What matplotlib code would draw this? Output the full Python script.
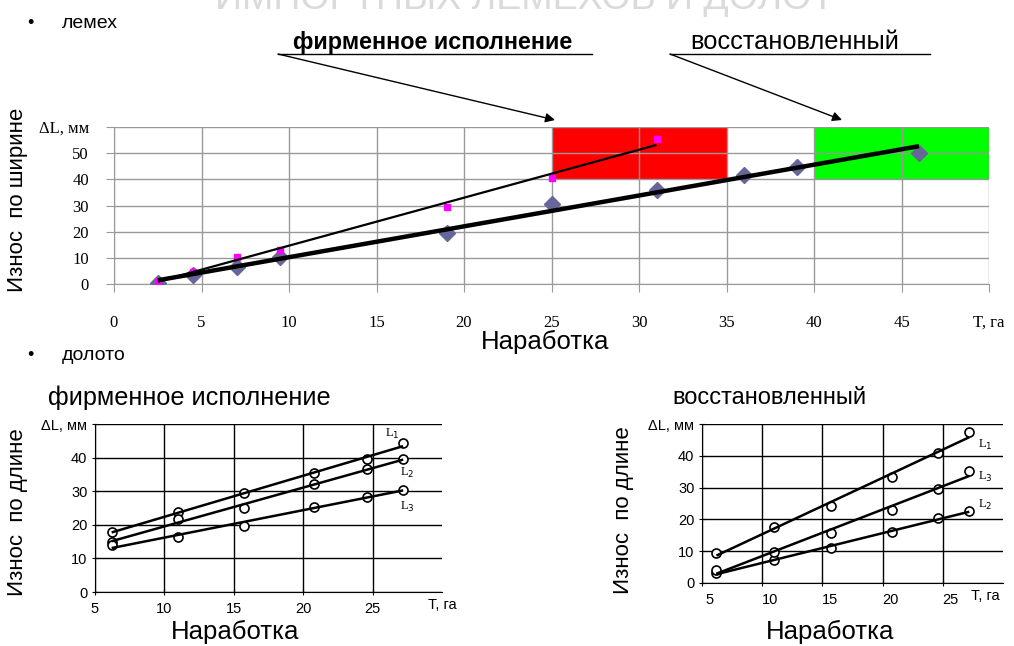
import matplotlib
matplotlib.use("Agg")
import matplotlib.pyplot as plt
import matplotlib.transforms as mtransforms
from matplotlib.lines import Line2D
from matplotlib.patches import Rectangle
import numpy as np

plt.rcParams['font.family'] = ['Liberation Sans', 'DejaVu Sans']

# --- лемех: износ по ширине ---
t_firm = [2.5, 4.5, 7, 9.5, 19, 25, 31]
dl_firm = [1.3, 4.7, 10.4, 13.0, 29.5, 40.6, 55.3]
t_rest = [2.5, 4.5, 7, 9.5, 19, 25, 31, 36, 39, 46]
dl_rest = [0.3, 3.4, 6.6, 10.4, 19.4, 30.6, 35.9, 41.7, 44.8, 50.2]
# limit zones (T from, T to, dL from, dL to)
zone_firm = (25, 35, 40, 60)
zone_rest = (40, 50, 40, 60)

# --- долото: износ по длине ---
t_bit = [6.2, 11.0, 15.7, 20.8, 24.6, 27.2]
firm_L1 = [17.8, 23.7, 29.4, 35.3, 39.5, 44.2]
firm_L2 = [15.0, 21.6, 25.0, 32.0, 36.5, 39.6]
firm_L3 = [14.0, 16.5, 19.6, 25.4, 28.4, 30.4]
rest_L1 = [9.3, 17.7, 24.2, 33.2, 41.0, 47.4]
rest_L2 = [3.2, 7.2, 11.1, 16.0, 20.3, 22.7]
rest_L3 = [4.1, 9.7, 15.8, 23.0, 29.6, 35.3]

W, H = 1014, 646
fig = plt.figure(figsize=(W / 100, H / 100), dpi=100)


def fx(px):
    return px / W


def fy(py):
    return 1 - py / H


def trend(ax, x, y, lw):
    k, b = np.polyfit(x, y, 1)
    xs = np.array([min(x), max(x)])
    ax.plot(xs, k * xs + b, color='black', lw=lw, zorder=4, solid_capstyle='butt')


# faded slide title, cut by the top edge
fig.text(fx(525), fy(-1), 'ИМПОРТНЫХ ЛЕМЕХОВ И ДОЛОТ', ha='center', va='center',
         fontsize=27, color='#dadada')

# ---------------- top chart ----------------
ax = fig.add_axes([fx(114), fy(284), fx(989) - fx(114), fy(127) - fy(284)])
ax.set_xlim(0, 50)
ax.set_ylim(0, 60)
for z, c in [(zone_firm, '#ff0000'), (zone_rest, '#00ff00')]:
    ax.add_patch(Rectangle((z[0], z[2]), z[1] - z[0], z[3] - z[2], color=c, lw=0, zorder=0.2))
ax.set_axisbelow(True)
ax.grid(True, color='#999999', lw=1)
ax.set_xticks(range(0, 51, 5))
ax.set_xticklabels([str(v) for v in range(0, 50, 5)] + ['T, га'])
ax.set_yticks(range(0, 61, 10))
ax.set_yticklabels([str(v) for v in range(0, 60, 10)] + ['ΔL, мм'])
for s in ['top', 'right']:
    ax.spines[s].set_visible(False)
for s in ['left', 'bottom']:
    ax.spines[s].set_color('#999999')
ax.tick_params(direction='out', length=6, color='#999999', labelsize=12)
ax.tick_params(axis='x', pad=16)
ax.tick_params(axis='y', pad=12)
for lbl in ax.get_xticklabels() + ax.get_yticklabels():
    lbl.set_fontfamily(['Liberation Serif', 'DejaVu Serif'])

ax.plot(t_rest, dl_rest, 'D', color='#666699', ms=8, zorder=3)
ax.plot(t_firm, dl_firm, 's', color='#ff00ff', ms=5, zorder=3)
trend(ax, t_rest, dl_rest, 3.2)
trend(ax, t_firm, dl_firm, 1.6)

fig.text(fx(18), fy(200), 'Износ  по ширине', rotation=90, ha='center', va='center', fontsize=16)
fig.text(fx(545), fy(342), 'Наработка', ha='center', va='center', fontsize=18.5)

# annotations
fig.text(fx(30), fy(24), '•', ha='center', va='center', fontsize=13)
fig.text(fx(62), fy(24), 'лемех', ha='left', va='center', fontsize=14)
fig.text(fx(433), fy(42), 'фирменное исполнение', ha='center', va='center',
         fontsize=16.8, fontweight='bold')
fig.text(fx(795), fy(42), 'восстановленный', ha='center', va='center', fontsize=18.3)
for x0, x1, tip in [(278, 592, (555, 120)), (670, 930, (842, 120))]:
    fig.add_artist(Line2D([fx(x0), fx(x1)], [fy(54), fy(54)], transform=fig.transFigure,
                          color='black', lw=1))
    fig.add_artist(plt.Annotation('', xy=(fx(tip[0]), fy(tip[1])), xytext=(fx(x0), fy(54)),
                                  xycoords='figure fraction', textcoords='figure fraction',
                                  arrowprops=dict(arrowstyle='-|>', color='black', lw=1,
                                                  mutation_scale=14, shrinkA=0, shrinkB=0)))

fig.text(fx(30), fy(355), '•', ha='center', va='center', fontsize=13)
fig.text(fx(62), fy(355), 'долото', ha='left', va='center', fontsize=14)


# ---------------- bottom charts ----------------
def bit_chart(rect, series, label_pos, xshift, tlabel_x):
    a = fig.add_axes(rect)
    a.set_xlim(5, 30)
    a.set_ylim(0, 50)
    a.set_axisbelow(True)
    a.grid(True, color='black', lw=1)
    a.set_xticks(range(5, 30, 5))
    a.set_yticks(range(0, 51, 10))
    a.set_yticklabels([str(v) for v in range(0, 50, 10)] + ['ΔL, мм'])
    for s in ['top', 'right']:
        a.spines[s].set_visible(False)
    a.tick_params(direction='inout', length=5, labelsize=10.5)
    a.tick_params(axis='x', pad=5)
    a.tick_params(axis='y', pad=3)
    if xshift:
        off = mtransforms.ScaledTranslation(xshift / 100, 0, fig.dpi_scale_trans)
        for lbl in a.get_xticklabels():
            lbl.set_transform(lbl.get_transform() + off)
    for y in series:
        a.plot(t_bit, y, 'o', mfc='white', mec='black', ms=6.5, mew=1.2, zorder=3)
        trend(a, t_bit, y, 1.8)
    for name, (x, y) in label_pos.items():
        a.text(x, y, name, fontsize=9, family=['Liberation Serif', 'DejaVu Serif'],
               ha='left', va='center')
    a.text(tlabel_x, -0.08, 'T, га', transform=a.transAxes, ha='center', va='center',
           fontsize=10.5)
    return a


bit_chart([fx(95), fy(592), fx(442) - fx(95), fy(424) - fy(592)],
          [firm_L1, firm_L2, firm_L3],
          {'L$_1$': (25.9, 47.0), 'L$_2$': (27.0, 35.4), 'L$_3$': (27.0, 25.3)}, 0, 1.0)
fig.text(fx(48), fy(398), 'фирменное исполнение', ha='left', va='center', fontsize=18.2)
fig.text(fx(18), fy(512), 'Износ  по длине', rotation=90, ha='center', va='center', fontsize=16)
fig.text(fx(235), fy(632), 'Наработка', ha='center', va='center', fontsize=18.5)

bit_chart([fx(702), fy(583), fx(1003) - fx(702), fy(424) - fy(583)],
          [rest_L1, rest_L2, rest_L3],
          {'L$_1$': (27.9, 43.4), 'L$_3$': (27.9, 33.3), 'L$_2$': (27.9, 24.5)}, 8, 0.94)
fig.text(fx(672), fy(398), 'восстановленный', ha='left', va='center', fontsize=17)
fig.text(fx(623), fy(510), 'Износ  по длине', rotation=90, ha='center', va='center', fontsize=16)
fig.text(fx(830), fy(632), 'Наработка', ha='center', va='center', fontsize=18.5)

fig.savefig('out.png', dpi=100)
